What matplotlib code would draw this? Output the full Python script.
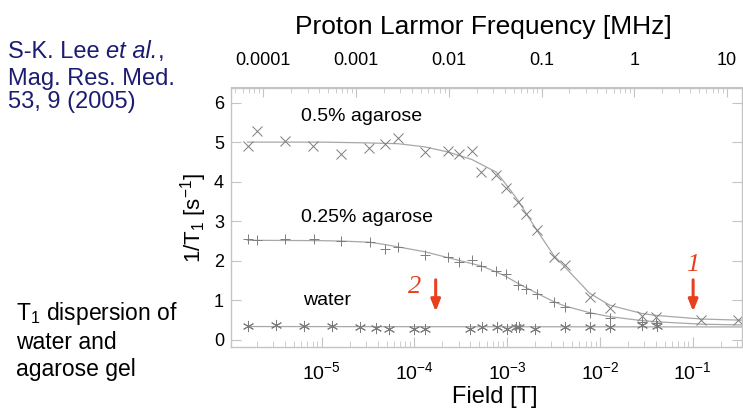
import numpy as np
import matplotlib
matplotlib.use("Agg")
import matplotlib.pyplot as plt

plt.rcParams['font.family'] = ['Liberation Sans', 'DejaVu Sans']
plt.rcParams['mathtext.fontset'] = 'custom'
plt.rcParams['mathtext.rm'] = 'Liberation Sans'
plt.rcParams['mathtext.it'] = 'Liberation Sans:italic'

# log10(field in T) and 1/T1 values
agar05_logB = [-5.795, -5.698, -5.391, -5.094, -4.788, -4.493, -4.313, -4.177, -3.889,
               -3.638, -3.520, -3.380, -3.286, -3.117, -3.009, -2.884, -2.793, -2.679,
               -2.499, -2.380, -2.111, -1.895, -1.547, -1.391, -0.906, -0.511]
agar05_r1 = [4.89, 5.29, 5.04, 4.89, 4.71, 4.86, 4.96, 5.10, 4.75,
             4.77, 4.71, 4.77, 4.24, 4.16, 3.84, 3.48, 3.18, 2.77,
             2.10, 1.89, 1.09, 0.80, 0.60, 0.57, 0.50, 0.50]

agar025_logB = [-5.795, -5.698, -5.391, -5.086, -4.788, -4.482, -4.313, -4.177, -3.889,
                -3.638, -3.520, -3.380, -3.286, -3.117, -3.009, -2.884, -2.793, -2.679,
                -2.499, -2.380, -2.111, -1.895, -1.547, -1.391]
agar025_r1 = [2.54, 2.52, 2.54, 2.54, 2.50, 2.48, 2.31, 2.35, 2.14,
              2.10, 1.97, 2.02, 1.87, 1.74, 1.66, 1.40, 1.29, 1.16,
              0.95, 0.84, 0.67, 0.55, 0.46, 0.42]

water_logB = [-5.795, -5.496, -5.194, -4.889, -4.590, -4.410, -4.278, -4.008, -3.882,
              -3.404, -3.270, -3.115, -3.000, -2.910, -2.876, -2.696, -2.380, -2.111,
              -1.895, -1.547, -1.381]
water_r1 = [0.36, 0.38, 0.36, 0.36, 0.34, 0.31, 0.28, 0.29, 0.27,
            0.28, 0.32, 0.34, 0.27, 0.32, 0.32, 0.28, 0.32, 0.32,
            0.32, 0.38, 0.35]

# fitted curves
fit05_logB = [-5.8, -5.0, -4.5, -4.177, -3.889, -3.638, -3.38, -3.117, -3.002, -2.884,
              -2.793, -2.679, -2.499, -2.38, -2.111, -1.895, -1.547, -1.391, -0.906, -0.47]
fit05_r1 = [5.0, 5.0, 4.98, 4.96, 4.88, 4.75, 4.56, 4.24, 3.90, 3.53,
            3.19, 2.77, 2.14, 1.85, 1.18, 0.88, 0.67, 0.62, 0.53, 0.50]

fit025_logB = [-5.8, -5.0, -4.788, -4.48, -4.313, -3.889, -3.638, -3.38, -3.278, -3.117,
               -3.009, -2.884, -2.679, -2.499, -2.38, -2.111, -1.895, -1.547, -1.391,
               -0.906, -0.47]
fit025_r1 = [2.52, 2.51, 2.50, 2.47, 2.41, 2.23, 2.08, 1.93, 1.87, 1.72,
             1.60, 1.43, 1.18, 0.97, 0.86, 0.69, 0.59, 0.49, 0.46,
             0.40, 0.38]

fitw_logB = [-5.8, -0.47]
fitw_r1 = [0.34, 0.33]

gamma = 42.58  # MHz / T
top_ticks = [1e-4, 1e-3, 1e-2, 1e-1, 1, 10]
top_labels = ['0.0001', '0.001', '0.01', '0.1', '1', '10']

spine_c = '#c4c4c4'
mark_c = '#7c7c7c'
line_c = '#a8a8a8'
red = '#e8401c'

fig = plt.figure(figsize=(7.43, 4.13), dpi=100)
ax = fig.add_axes([231 / 743, 1 - 347 / 413, 511 / 743, (347 - 87.5) / 413])

ax.plot(10 ** np.array(fit05_logB), fit05_r1, color=line_c, lw=0.9)
ax.plot(10 ** np.array(fit025_logB), fit025_r1, color=line_c, lw=0.9)
ax.plot(10 ** np.array(fitw_logB), fitw_r1, color=line_c, lw=0.9)

ax.plot(10 ** np.array(agar05_logB), agar05_r1, 'x', color=mark_c, ms=7, mew=0.7)
ax.plot(10 ** np.array(agar025_logB), agar025_r1, '+', color=mark_c, ms=7, mew=0.7)
ax.plot(10 ** np.array(water_logB), water_r1, marker=(6, 2, 0), ls='none',
        color=mark_c, ms=8, mew=0.7)

ax.set_xscale('log')
ax.set_xlim(10 ** -5.978, 10 ** -0.468)
ax.set_ylim(-0.177, 6.38)
ax.set_yticks([0, 1, 2, 3, 4, 5, 6])
ax.set_xticks([1e-5, 1e-4, 1e-3, 1e-2, 1e-1])
ax.set_xticklabels(['$10^{-5}$', '$10^{-4}$', '$10^{-3}$', '$10^{-2}$', '$10^{-1}$'])

for s in ax.spines.values():
    s.set_color(spine_c)
    s.set_linewidth(1.0)
ax.tick_params(axis='both', which='both', direction='in', color=spine_c, right=True)
ax.tick_params(axis='x', which='major', length=7, labelsize=14, pad=10)
ax.tick_params(axis='x', which='minor', length=4)
ax.tick_params(axis='y', which='major', length=7, labelsize=13, pad=5)

ax.set_xlabel('Field [T]', fontsize=17)
ax.xaxis.set_label_coords((495 - 231) / 511, (347 - 397) / 259.5)
ax.xaxis.label.set_va('center')
ax.set_ylabel('1/T$_1$ [s$^{-1}$]', fontsize=16)
ax.yaxis.set_label_coords((194 - 231) / 511, (347 - 218) / 259.5)
ax.yaxis.label.set_va('center')

top = ax.secondary_xaxis('top', functions=(lambda b: b * gamma, lambda f: f / gamma))
top.set_xticks(top_ticks)
top.set_xticklabels(top_labels)
top.spines['top'].set_color(spine_c)
top.tick_params(axis='x', which='both', direction='in', color=spine_c)
top.tick_params(axis='x', which='major', length=7, labelsize=13, pad=13)
top.tick_params(axis='x', which='minor', length=4)
fig.text(483 / 743, 1 - 27 / 413, 'Proton Larmor Frequency [MHz]', fontsize=19,
         ha='center', va='center')

ax.text(10 ** ((362 - 322) / 92.75 - 5), (340 - 117) / 39.5, '0.5% agarose',
        ha='center', va='center', fontsize=14)
ax.text(10 ** ((367 - 322) / 92.75 - 5), (340 - 217.5) / 39.5, '0.25% agarose',
        ha='center', va='center', fontsize=14)
ax.text(10 ** ((327 - 322) / 92.75 - 5), (340 - 300.5) / 39.5, 'water',
        ha='center', va='center', fontsize=14)

# red arrows
for lb in [-3.771, -0.995]:
    ax.annotate('', xy=(10 ** lb, 0.72), xytext=(10 ** lb, 1.52),
                arrowprops=dict(arrowstyle='-|>,head_length=0.7,head_width=0.28',
                                color=red, lw=2.2, shrinkA=0, shrinkB=0))
ax.text(10 ** -4.0, 1.33, '2', color=red, fontsize=19, style='italic',
        family='Liberation Serif', ha='center', va='center')
ax.text(10 ** -0.995, 1.90, '1', color=red, fontsize=19, style='italic',
        family='Liberation Serif', ha='center', va='center')

# citation, with the italic part as its own text
navy = '#1c1c70'
t1 = fig.text(8 / 743, 1 - 52 / 413, 'S-K. Lee ', color=navy, fontsize=17,
              ha='left', va='center')
ann = ax.annotate('et al.', xy=(1, 0), xycoords=t1, va='bottom', ha='left',
                  color=navy, fontsize=17, style='italic', annotation_clip=False)
ax.annotate(',', xy=(1, 0), xycoords=ann, va='bottom', ha='left',
            color=navy, fontsize=17, annotation_clip=False)
fig.text(8 / 743, 1 - 90.5 / 413, 'Mag. Res. Med.\n53, 9 (2005)', color=navy,
         fontsize=17, ha='left', va='center', linespacing=1.1)

fig.text(16 / 743, 1 - 340.5 / 413, 'T$_1$ dispersion of\nwater and\nagarose gel',
         color='black', fontsize=16.5, ha='left', va='center', linespacing=1.2)

fig.savefig('out.png', dpi=100)
